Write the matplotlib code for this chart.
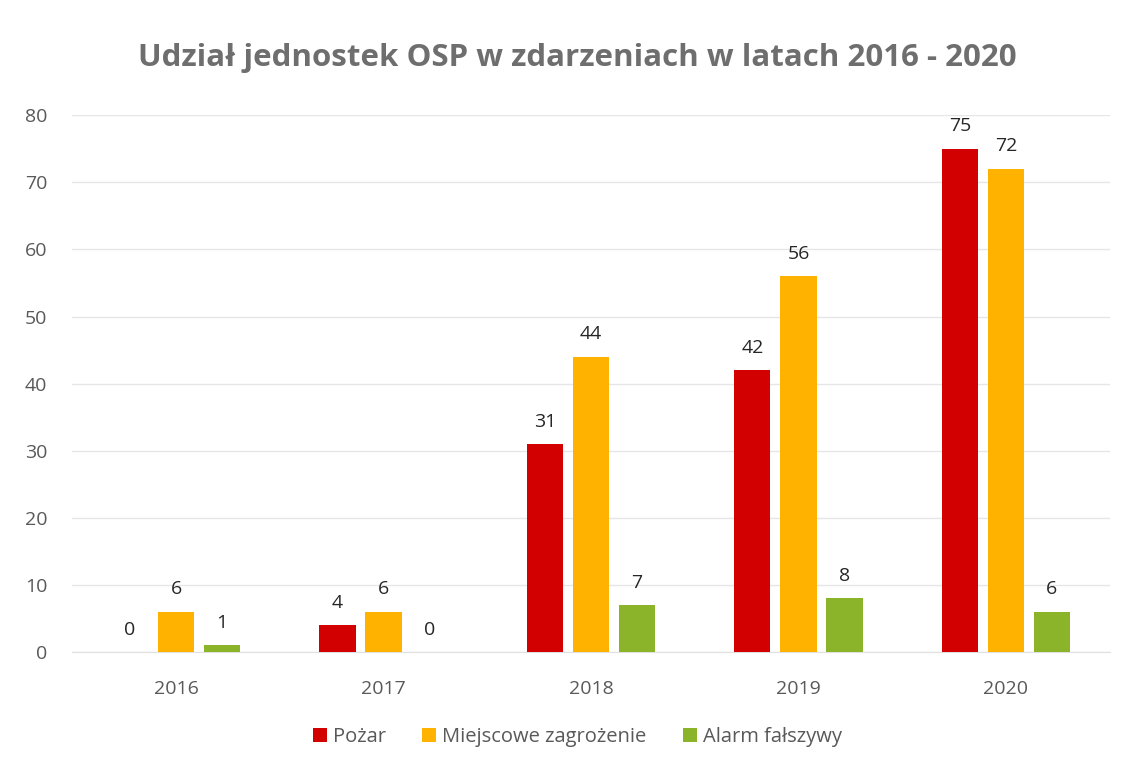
import matplotlib
matplotlib.use('Agg')
import matplotlib.pyplot as plt
import numpy as np

# Dane
years = ['2016', '2017', '2018', '2019', '2020']
series_names = ['Pożar', 'Miejscowe zagrożenie', 'Alarm fałszywy']
pozar = [0, 4, 31, 42, 75]
miejscowe = [6, 6, 44, 56, 72]
alarm = [1, 0, 7, 8, 6]
colors = ['#D20000', '#FFB300', '#8CB42A']

plt.rcParams['font.family'] = ['Open Sans', 'DejaVu Sans']

fig = plt.figure(figsize=(11.3, 7.68), dpi=100)
ax = fig.add_axes([0.064, 0.151, 0.918, 0.699])

x = np.arange(len(years))
width = 0.174
offset = 0.222

for i, (vals, name, col) in enumerate(zip([pozar, miejscowe, alarm], series_names, colors)):
    pos = x + (i - 1) * offset
    ax.bar(pos, vals, width, color=col, label=name, zorder=3)
    for xp, v in zip(pos, vals):
        ax.text(xp, v + 2.0, str(v), ha='center', va='bottom', fontsize=14, color='#262626')

ax.set_xlim(-0.5, len(years) - 0.5)
ax.set_ylim(0, 80)
ax.set_yticks(range(0, 81, 10))
ax.set_xticks(x)
ax.set_xticklabels(years)
ax.tick_params(axis='both', length=0, labelsize=14, colors='#595959')
ax.tick_params(axis='x', pad=20)
ax.tick_params(axis='y', pad=18)
for lbl in ax.get_yticklabels():
    lbl.set_horizontalalignment('right')

ax.grid(axis='y', color='#E6E6E6', linewidth=1, zorder=0)
for s in ax.spines.values():
    s.set_visible(False)
ax.spines['bottom'].set_visible(True)
ax.spines['bottom'].set_color('#E0E0E0')

fig.text(0.511, 0.925, 'Udział jednostek OSP w zdarzeniach w latach 2016 - 2020',
         ha='center', va='center', fontsize=22.5, fontweight='bold', color='#6E6E6E')

fig.legend(loc='center', bbox_to_anchor=(0.511, 0.04), ncol=3, frameon=False,
           fontsize=14.5, handlelength=0.7, handleheight=0.7, columnspacing=1.8,
           handletextpad=0.3, labelcolor='#595959')

plt.savefig('out.png', dpi=100)
plt.close()
